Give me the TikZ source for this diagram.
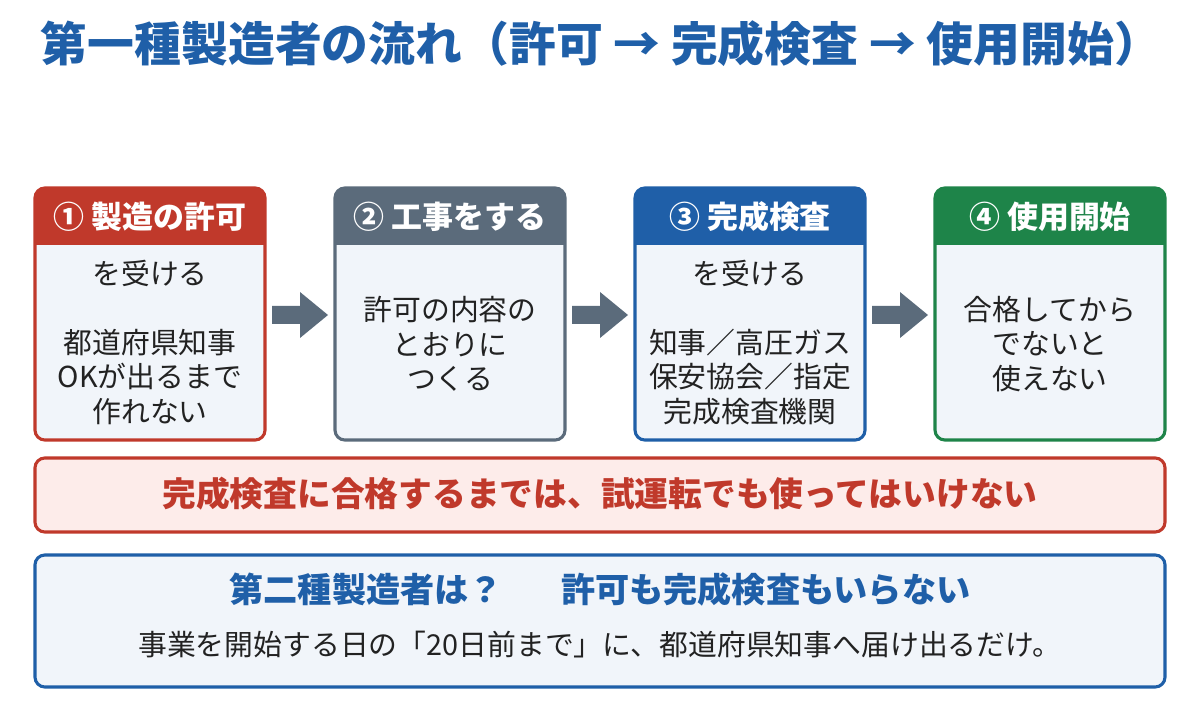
\documentclass[tikz,border=0pt]{standalone}
\usepackage{fontspec}
\setmainfont{Noto Sans CJK JP}
\usetikzlibrary{positioning}
\definecolor{ttlblue}{HTML}{1F5FA8}
\definecolor{hdred}{HTML}{C0392B}
\definecolor{hdgray}{HTML}{5B6B7B}
\definecolor{hdgreen}{HTML}{1E8449}
\definecolor{boxbg}{HTML}{F1F5FA}
\definecolor{warnbg}{HTML}{FDECEA}
\definecolor{txt}{HTML}{222222}
\tikzset{
  step/.style={draw=#1, line width=2.2pt, fill=boxbg, rounded corners=7pt},
  head/.style={font=\bfseries\fontsize{22}{24}\selectfont, text=white},
  body/.style={font=\fontsize{20.5}{24.5}\selectfont, text=txt, align=center, inner sep=0pt},
  flow/.style={fill=hdgray, draw=none}
}
\begin{document}
\begin{tikzpicture}[x=0.025cm, y=-0.025cm]
\useasboundingbox (0,0) rectangle (1200,720);
\node[anchor=west, text=ttlblue, font=\bfseries\fontsize{33.3}{36}\selectfont] (title) at (36,44) {第一種製造者の流れ（許可 → 完成検査 → 使用開始）};
% the four steps
\foreach \i/\x/\c/\h in {1/35/hdred/① 製造の許可, 2/335/hdgray/② 工事をする, 3/635/ttlblue/③ 完成検査, 4/935/hdgreen/④ 使用開始} {
  \begin{scope}
    \clip[rounded corners=7pt] (\x,188) rectangle ++(230,252);
    \fill[boxbg] (\x,188) rectangle ++(230,252);
    \fill[\c] (\x,188) rectangle ++(230,57);
  \end{scope}
  \draw[\c, line width=2.2pt, rounded corners=7pt] (\x,188) rectangle ++(230,252);
  \node[head] (h\i) at (\x+115,217) {\h};
}
\node[body, anchor=north] (b1) at (150,260) {を受ける\\\mbox{}\\都道府県知事\\OKが出るまで\\作れない};
\node[body] (b2) at (450,344) {許可の内容の\\とおりに\\つくる};
\node[body, anchor=north] (b3) at (750,260) {を受ける\\\mbox{}\\知事／高圧ガス\\保安協会／指定\\完成検査機関};
\node[body] (b4) at (1050,344) {合格してから\\でないと\\使えない};
% arrows between steps
\foreach \x in {272,572,872} {
  \fill[flow] (\x,306) -- ++(28,0) -- ++(0,-14) -- ++(28,23) -- ++(-28,23) -- ++(0,-14) -- ++(-28,0) -- cycle;
}
% warning banner
\draw[step=hdred, fill=warnbg] (35,458) rectangle (1165,532);
\node[text=hdred, font=\bfseries\fontsize{24}{26}\selectfont] (warn) at (600,494) {完成検査に合格するまでは、試運転でも使ってはいけない};
% second kind
\draw[step=ttlblue] (35,555) rectangle (1165,687);
\node[text=ttlblue, font=\bfseries\fontsize{24.3}{26}\selectfont] (k2) at (600,589) {第二種製造者は？\hspace{1.7em}許可も完成検査もいらない};
\node[body, below=14pt of k2] (k2b) {事業を開始する日の「20日前まで」に、都道府県知事へ届け出るだけ。};
\end{tikzpicture}
\end{document}
